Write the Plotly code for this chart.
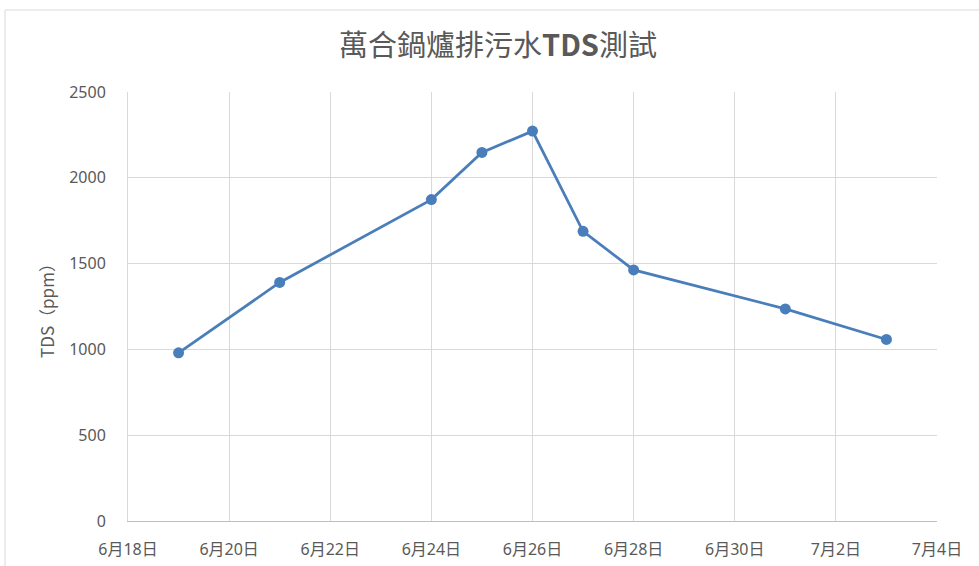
import plotly.graph_objects as go

dates = ["2024-06-19", "2024-06-21", "2024-06-24", "2024-06-25", "2024-06-26",
         "2024-06-27", "2024-06-28", "2024-07-01", "2024-07-03"]
tds = [980, 1390, 1873, 2148, 2272, 1688, 1463, 1236, 1058]

title_text = "萬合鍋爐排污水<b>TDS</b>測試"
y_title = "TDS（ppm）"
x_range = ["2024-06-18", "2024-07-04"]
y_ticks = [0, 500, 1000, 1500, 2000, 2500]

FONT = "Noto Sans, Noto Sans CJK TC, sans-serif"
CJK = "Noto Sans CJK TC, sans-serif"
TXT = "#595959"
GRID = "#d9d9d9"

FW, FH = 979, 566
L, R, T, B = 128, 42, 92, 45

fig = go.Figure()
fig.add_trace(go.Scatter(
    x=dates, y=tds, mode="lines+markers",
    line=dict(color="#4a7ebb", width=2.75),
    marker=dict(color="#4a7ebb", size=11),
    showlegend=False,
))

fig.update_layout(
    width=FW, height=FH,
    margin=dict(l=L, r=R, t=T, b=B, autoexpand=False),
    paper_bgcolor="white", plot_bgcolor="white",
    title=dict(text=title_text, x=498 / FW, xanchor="center", y=1 - 46 / FH, yanchor="middle",
               font=dict(family=CJK, size=29, color=TXT)),
    font=dict(family=FONT, size=16, color=TXT),
)
fig.update_xaxes(
    type="date", range=x_range, dtick=2 * 86400000, tick0="2024-06-18",
    tickformat="%-m月%-d日", showgrid=True, gridcolor=GRID, gridwidth=1,
    showline=True, linecolor="#bfbfbf", linewidth=1,
    ticks="", ticklabelstandoff=14, automargin=False,
    tickfont=dict(family=FONT, size=16, color=TXT),
)
fig.update_yaxes(
    range=[0, 2500], tickvals=y_ticks, showgrid=True, gridcolor=GRID, gridwidth=1,
    zeroline=False, showline=True, linecolor=GRID, linewidth=1,
    ticks="", ticklabelstandoff=18, automargin=False,
    tickfont=dict(family=FONT, size=16, color=TXT),
    title=dict(text=y_title, font=dict(family=CJK, size=17, color=TXT), standoff=10),
)
# chart frame border
PW, PH = FW - L - R, FH - T - B
fig.add_shape(type="rect", xref="paper", yref="paper",
              x0=(5 - L) / PW, x1=(FW + 20 - L) / PW,
              y0=(FH - B - 700) / PH, y1=(FH - B - 10) / PH,
              line=dict(color="#d9d9d9", width=1), fillcolor="rgba(0,0,0,0)", layer="below")
fig.write_html("out.html", config={"displayModeBar": False},
               post_script="document.body.style.margin='0';document.body.style.overflow='hidden';")
